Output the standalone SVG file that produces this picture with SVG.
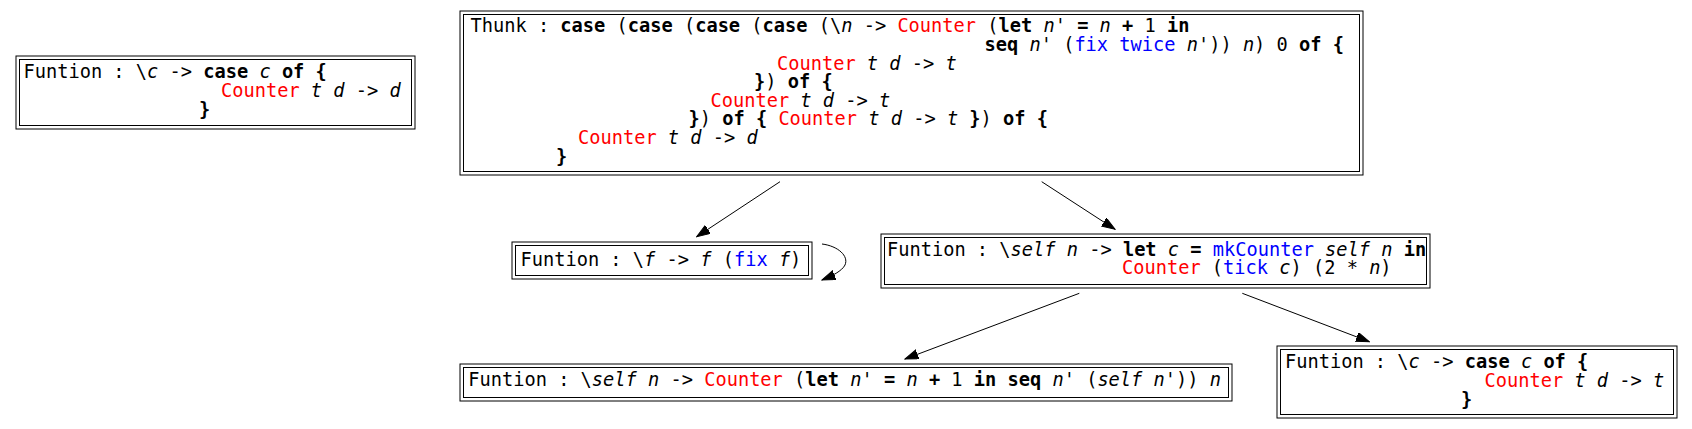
<svg xmlns="http://www.w3.org/2000/svg" width="1692" height="429" viewBox="0 0 1692 429">
<style>
.bg{fill:#fff}
.ob{fill:none;stroke:#000;stroke-width:1}
.ib{fill:none;stroke:#000;stroke-width:1}
text{font-family:"DejaVu Sans Mono","Liberation Mono",monospace;font-size:18.67px;fill:#000;white-space:pre}
.b{font-weight:bold}
.i{font-style:italic}
.r{fill:#ff0000}
.u{fill:#0000ff}
.e{fill:none;stroke:#000;stroke-width:1}
</style>
<defs>
<marker id="ah" markerUnits="userSpaceOnUse" markerWidth="14" markerHeight="10" refX="13.3" refY="4.7" orient="auto" viewBox="0 0 14 10">
<path d="M0,0 L13.3,4.7 L0,9.4 z" fill="#000" stroke="#000" stroke-width="1"/>
</marker>
</defs>
<rect class="bg" x="0" y="0" width="1692" height="429"/>

<g id="edges">
<path class="e" d="M780,181.7 L696.7,236.7" marker-end="url(#ah)"/>
<path class="e" d="M1041.7,181.7 L1115,229.3" marker-end="url(#ah)"/>
<path class="e" d="M1079.3,293.3 L905,359" marker-end="url(#ah)"/>
<path class="e" d="M1242.3,293.3 L1369.3,341.7" marker-end="url(#ah)"/>
<path class="e" d="M822,244 C838,246 849,256 845,265 C842,271 832,276 822,280" marker-end="url(#ah)"/>
</g>

<g id="node_funtion_c_d">
<rect class="ob" x="16" y="56" width="399" height="73"/>
<rect class="ib" x="19.5" y="59.5" width="392" height="66"/>
<text xml:space="preserve" x="23.5" y="78.3">Funtion : \<tspan class="i">c</tspan> -&gt; <tspan class="b">case</tspan> <tspan class="i">c</tspan> <tspan class="b">of {</tspan></text>
<text xml:space="preserve" x="221" y="97.3"><tspan class="r">Counter</tspan> <tspan class="i">t</tspan> <tspan class="i">d</tspan> -&gt; <tspan class="i">d</tspan></text>
<text xml:space="preserve" x="199" y="116" class="b">}</text>
</g>

<g id="node_thunk">
<rect class="ob" x="460" y="11" width="903" height="164"/>
<rect class="ib" x="463.5" y="14.5" width="896" height="157"/>
<text xml:space="preserve" x="470.5" y="32.3">Thunk : <tspan class="b">case</tspan> (<tspan class="b">case</tspan> (<tspan class="b">case</tspan> (<tspan class="b">case</tspan> (\<tspan class="i">n</tspan> -&gt; <tspan class="r">Counter</tspan> (<tspan class="b">let</tspan> <tspan class="i">n</tspan>' <tspan class="b">=</tspan> <tspan class="i">n</tspan> <tspan class="b">+</tspan> 1 <tspan class="b">in</tspan></text>
<text xml:space="preserve" x="984.5" y="50.9"><tspan class="b">seq</tspan> <tspan class="i">n</tspan>' (<tspan class="u">fix twice</tspan> <tspan class="i">n</tspan>')) <tspan class="i">n</tspan>) 0 <tspan class="b">of {</tspan></text>
<text xml:space="preserve" x="777" y="69.5"><tspan class="r">Counter</tspan> <tspan class="i">t</tspan> <tspan class="i">d</tspan> -&gt; <tspan class="i">t</tspan></text>
<text xml:space="preserve" x="754" y="88.1"><tspan class="b">}</tspan>) <tspan class="b">of {</tspan></text>
<text xml:space="preserve" x="710.5" y="106.7"><tspan class="r">Counter</tspan> <tspan class="i">t</tspan> <tspan class="i">d</tspan> -&gt; <tspan class="i">t</tspan></text>
<text xml:space="preserve" x="688.5" y="125.3"><tspan class="b">}</tspan>) <tspan class="b">of {</tspan> <tspan class="r">Counter</tspan> <tspan class="i">t</tspan> <tspan class="i">d</tspan> -&gt; <tspan class="i">t</tspan> <tspan class="b">}</tspan>) <tspan class="b">of {</tspan></text>
<text xml:space="preserve" x="578" y="143.9"><tspan class="r">Counter</tspan> <tspan class="i">t</tspan> <tspan class="i">d</tspan> -&gt; <tspan class="i">d</tspan></text>
<text xml:space="preserve" x="556" y="162.5" class="b">}</text>
</g>

<g id="node_fix">
<rect class="ob" x="512" y="242" width="300" height="37"/>
<rect class="ib" x="515.5" y="245.5" width="293" height="30"/>
<text xml:space="preserve" x="520.5" y="265.7">Funtion : \<tspan class="i">f</tspan> -&gt; <tspan class="i">f</tspan> (<tspan class="u">fix</tspan> <tspan class="i">f</tspan>)</text>
</g>

<g id="node_self">
<rect class="ob" x="881" y="234" width="549" height="54"/>
<rect class="ib" x="884.5" y="237.5" width="542" height="47"/>
<text xml:space="preserve" x="887" y="255.7">Funtion : \<tspan class="i">self</tspan> <tspan class="i">n</tspan> -&gt; <tspan class="b">let</tspan> <tspan class="i">c</tspan> <tspan class="b">=</tspan> <tspan class="u">mkCounter</tspan> <tspan class="i">self</tspan> <tspan class="i">n</tspan> <tspan class="b">in</tspan></text>
<text xml:space="preserve" x="1122" y="274.3"><tspan class="r">Counter</tspan> (<tspan class="u">tick</tspan> <tspan class="i">c</tspan>) (2 * <tspan class="i">n</tspan>)</text>
</g>

<g id="node_counter_loop">
<rect class="ob" x="460" y="364" width="772" height="37"/>
<rect class="ib" x="463.5" y="367.5" width="765" height="30"/>
<text xml:space="preserve" x="468.3" y="386">Funtion : \<tspan class="i">self</tspan> <tspan class="i">n</tspan> -&gt; <tspan class="r">Counter</tspan> (<tspan class="b">let</tspan> <tspan class="i">n</tspan>' <tspan class="b">=</tspan> <tspan class="i">n</tspan> <tspan class="b">+</tspan> 1 <tspan class="b">in</tspan> <tspan class="b">seq</tspan> <tspan class="i">n</tspan>' (<tspan class="i">self</tspan> <tspan class="i">n</tspan>')) <tspan class="i">n</tspan></text>
</g>

<g id="node_funtion_c_t">
<rect class="ob" x="1277" y="346" width="400" height="72"/>
<rect class="ib" x="1280.5" y="349.5" width="393" height="65"/>
<text xml:space="preserve" x="1285" y="367.7">Funtion : \<tspan class="i">c</tspan> -&gt; <tspan class="b">case</tspan> <tspan class="i">c</tspan> <tspan class="b">of {</tspan></text>
<text xml:space="preserve" x="1484.5" y="386.7"><tspan class="r">Counter</tspan> <tspan class="i">t</tspan> <tspan class="i">d</tspan> -&gt; <tspan class="i">t</tspan></text>
<text xml:space="preserve" x="1461" y="405.7" class="b">}</text>
</g>
</svg>
